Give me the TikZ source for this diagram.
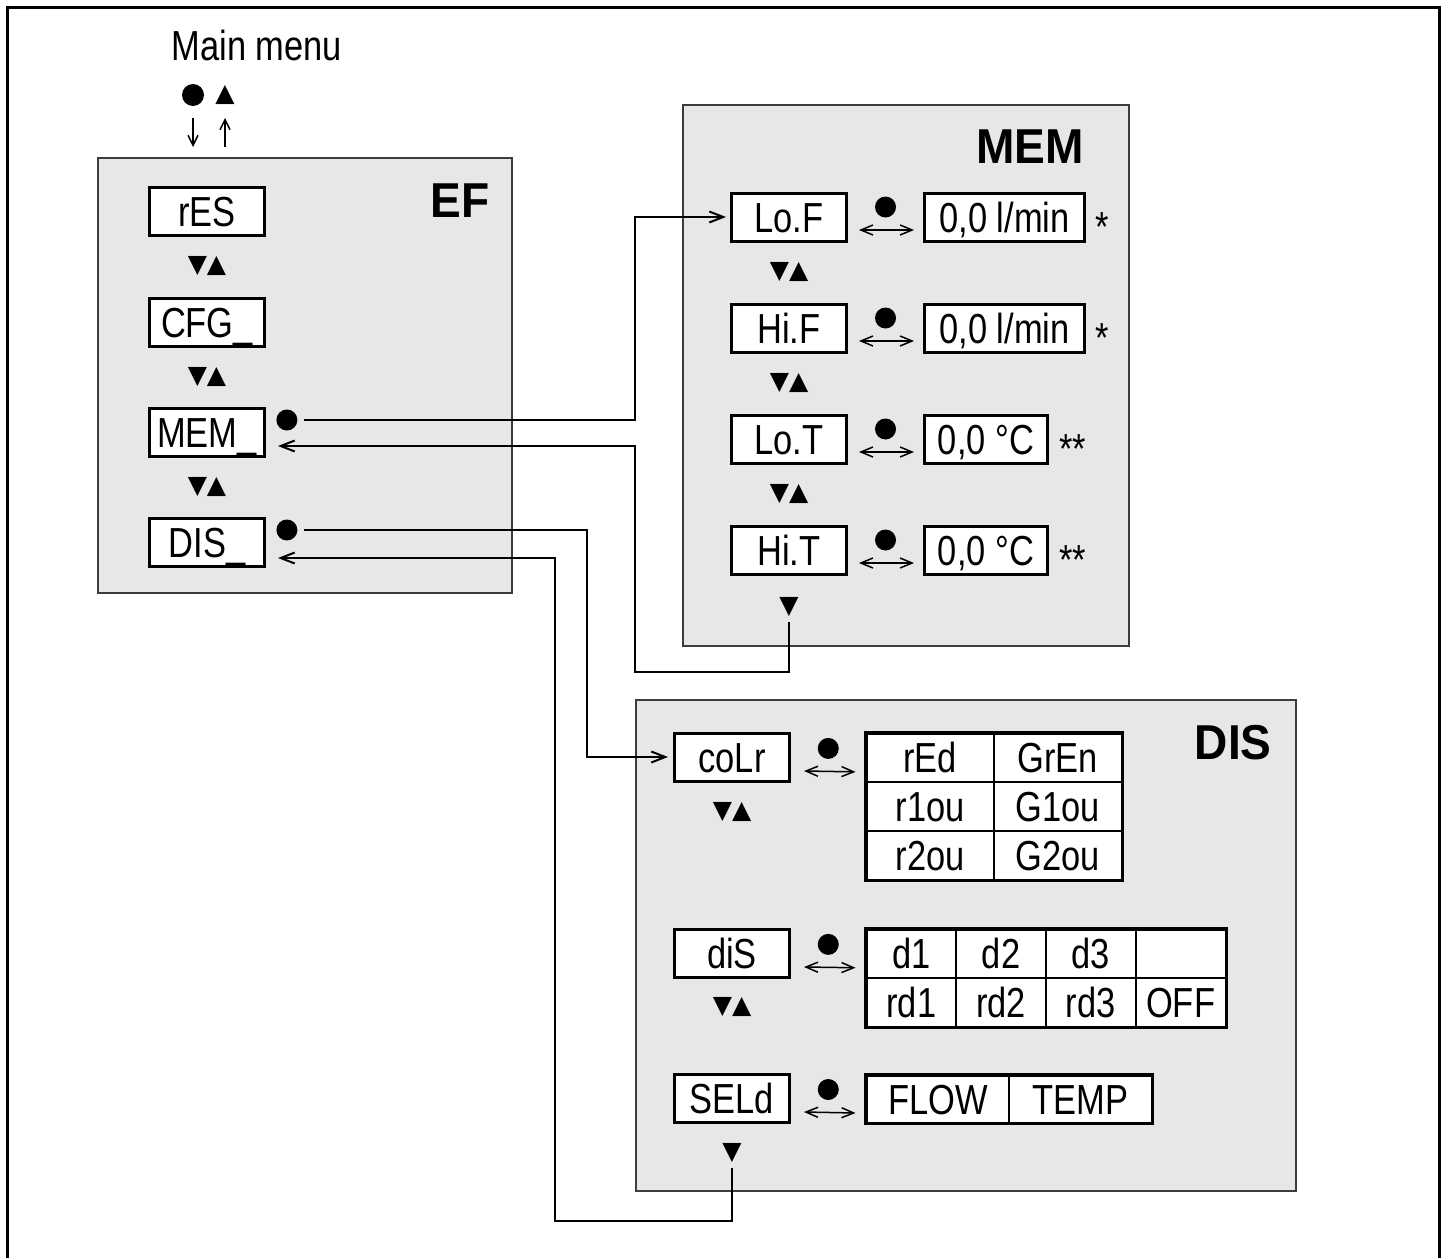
\documentclass[tikz,border=0pt]{standalone}
\usepackage{fontspec}
\setmainfont{Liberation Sans}[FakeStretch=0.82]
\newfontfamily\titlefont{Liberation Sans}[FakeStretch=0.94]
\newfontfamily\symfont{DejaVu Sans}
\usetikzlibrary{arrows.meta, positioning, calc}
\usepackage{xcolor}
\definecolor{panelgray}{RGB}{230,231,232}
\definecolor{panelline}{RGB}{60,60,60}
\newcommand\dispsize{\fontsize{21}{24}\selectfont}

\tikzset{
  panel/.style={draw=panelline, fill=panelgray, line width=1pt, anchor=north west},
  paneltitle/.style={font=\titlefont\bfseries\fontsize{24.5}{28}\selectfont, inner sep=0pt, anchor=east},
  disp/.style={draw, fill=white, line width=1.5pt, minimum width=57.5pt, minimum height=24pt,
    inner sep=0pt, text height=15pt, text depth=0pt, font=\dispsize},
  cell/.style={draw, fill=white, line width=1pt, inner sep=0pt, anchor=north west,
    text height=15pt, text depth=0pt, font=\dispsize},
  knob/.style={circle, fill, inner sep=0pt, minimum size=10.5pt},
  keys/.style={font=\symfont\fontsize{12.5}{13}\selectfont, inner sep=0pt},
  starmark/.style={font=\dispsize, inner sep=0pt, yshift=-5pt},
  link/.style={line width=1pt},
  pairarrow/.style={<->, line width=0.75pt, >={Straight Barb[length=6pt,width=5pt]}},
  pointer/.style={->, line width=0.75pt, >={Straight Barb[length=5pt,width=5pt]}}
}

\begin{document}
\begin{tikzpicture}[x=0.5pt, y=-0.5pt, >={Straight Barb[length=7pt,width=5.5pt]}]
  \useasboundingbox (0,0) rectangle (1447,1258);
  % frame
  \draw[line width=1.5pt] (7,1270) -- (7,7) -- (1439,7) -- (1439,1270);

  % panels
  \node[panel, minimum width=207pt, minimum height=217.5pt] (efpanel) at (97,157) {};
  \node[panel, minimum width=223pt, minimum height=270.5pt] (mempanel) at (682,104) {};
  \node[panel, minimum width=330pt, minimum height=245.5pt] (dispanel) at (635,699) {};
  \node[paneltitle] (eftitle) at (490,201) {EF};
  \node[paneltitle] (memtitle) at (1084,147) {MEM};
  \node[paneltitle] (distitle) at (1272,743) {DIS};

  % main menu
  \node[font=\dispsize, inner sep=0pt] (mainmenu) at (257,45) {Main menu};
  \node[knob, minimum size=11pt] (mmdot) at (193,95) {};
  \node[keys] (mmup) at (225,95) {▲};
  \draw[pointer] ([yshift=-11.5pt]mmdot.center) -- ([yshift=5pt]mmdot |- efpanel.north);
  \draw[pointer] ([yshift=5pt]mmup |- efpanel.north) -- ([yshift=-11.5pt]mmup.center);

  % EF
  \node[disp] (res) at (207,211) {rES};
  \node[disp] (cfg) at (207,322) {CFG\_};
  \node[disp] (mem) at (207,432) {MEM\_};
  \node[disp] (dis) at (207,542) {DIS\_};
  \foreach \a/\b in {res/cfg, cfg/mem, mem/dis}
    \node[keys] (\a-keys) at ($(\a)!0.5!(\b)$) {▼▲};
  \node[knob, right=5pt of mem, yshift=6pt] (mem-dot) {};
  \node[knob, right=5pt of dis, yshift=6pt] (dis-dot) {};

  % MEM
  \node[disp] (lof) at (789,217) {Lo.F};
  \node[disp] (hif) at (789,328) {Hi.F};
  \node[disp] (lot) at (789,439) {Lo.T};
  \node[disp] (hit) at (789,550) {Hi.T};
  \node[disp, right=37.5pt of lof, minimum width=80pt] (lof-val) {0,0 l/min};
  \node[disp, right=37.5pt of hif, minimum width=80pt] (hif-val) {0,0 l/min};
  \node[disp, right=37.5pt of lot, minimum width=61.5pt] (lot-val) {0,0 °C};
  \node[disp, right=37.5pt of hit, minimum width=61.5pt] (hit-val) {0,0 °C};
  \node[starmark, right=4.5pt of lof-val] (lof-note) {*};
  \node[starmark, right=4.5pt of hif-val] (hif-note) {*};
  \node[starmark, right=5pt of lot-val] (lot-note) {**};
  \node[starmark, right=5pt of hit-val] (hit-note) {**};
  \foreach \a/\b in {lof/hif, hif/lot, lot/hit}
    \node[keys] (\a-keys) at ($(\a)!0.5!(\b)$) {▼▲};
  \node[keys] (memend) at ([yshift=-28.5pt]hit.center) {▼};
  \foreach \a in {lof, hif, lot, hit} {
    \node[knob] (\a-dot) at ($(\a.east)!0.5!(\a-val.west)+(0,-10)$) {};
    \draw[pairarrow] ([xshift=5.5pt, yshift=-6.5pt]\a.east) -- ([xshift=-4.5pt, yshift=-6.5pt]\a-val.west);
  }

  % DIS
  \node[disp] (colr) at (732,757) {coLr};
  \node[disp] (dsp) at (732,953) {diS};
  \node[disp] (seld) at (732,1098) {SELd};
  \node[keys] (colr-keys) at ([yshift=-27.5pt]colr.center) {▼▲};
  \node[keys] (dsp-keys) at ([yshift=-27pt]dsp.center) {▼▲};
  \node[keys] (disend) at ([yshift=-27.5pt]seld.center) {▼};

  \foreach \txt [count=\k from 0] in {rEd, GrEn, r1ou, G1ou, r2ou, G2ou} {
    \pgfmathtruncatemacro\col{mod(\k,2)}
    \pgfmathtruncatemacro\row{div(\k,2)}
    \node[cell, minimum width=63.75pt, minimum height=24.35pt] (colrtab-\k)
      at ({865.5+127.5*\col}, {732.5+48.7*\row}) {\txt};
  }
  \draw[line width=1.5pt] (colrtab-0.north west) rectangle (colrtab-5.south east);

  \foreach \txt [count=\k from 0] in {d1, d2, d3, {}, rd1, rd2, rd3, OFF} {
    \pgfmathtruncatemacro\col{mod(\k,4)}
    \pgfmathtruncatemacro\row{div(\k,4)}
    \node[cell, minimum width=44.875pt, minimum height=24.25pt] (dsptab-\k)
      at ({865.5+89.75*\col}, {928.5+48.5*\row}) {\txt};
  }
  \draw[line width=1.5pt] (dsptab-0.north west) rectangle (dsptab-7.south east);

  \foreach \txt [count=\k from 0] in {FLOW, TEMP}
    \node[cell, minimum width=71.25pt, minimum height=23.5pt] (seldtab-\k)
      at ({865.5+142.5*\k}, 1074.5) {\txt};
  \draw[line width=1.5pt] (seldtab-0.north west) rectangle (seldtab-1.south east);

  \foreach \a in {colr, dsp, seld} {
    \node[knob] (\a-dot) at ($(\a.east)!0.5!(\a tab-0.west)+(0,-9)$) {};
    \draw[pairarrow] ([xshift=6.5pt, yshift=-7pt]\a.east) -- ([xshift=-5pt, yshift=-7pt]\a tab-0.west);
  }

  % connectors
  \coordinate (memjog) at (635,300);
  \coordinate (memback) at (635,672);
  \coordinate (disjog) at (587,640);
  \coordinate (disback) at (555,1221);
  \draw[link, ->] ([xshift=3pt]mem-dot.east) -| (memjog) |- ([xshift=-2pt]lof.west);
  \draw[link, ->] ([yshift=-2.5pt]memend.south) |- (memback) |- ([xshift=6pt, yshift=-7pt]mem.east);
  \draw[link, ->] ([xshift=3pt]dis-dot.east) -| (disjog) |- ([xshift=-2.5pt]colr.west);
  \draw[link, ->] ([yshift=-2.5pt]disend.south) |- (disback) |- ([xshift=6pt, yshift=-8pt]dis.east);
\end{tikzpicture}
\end{document}
